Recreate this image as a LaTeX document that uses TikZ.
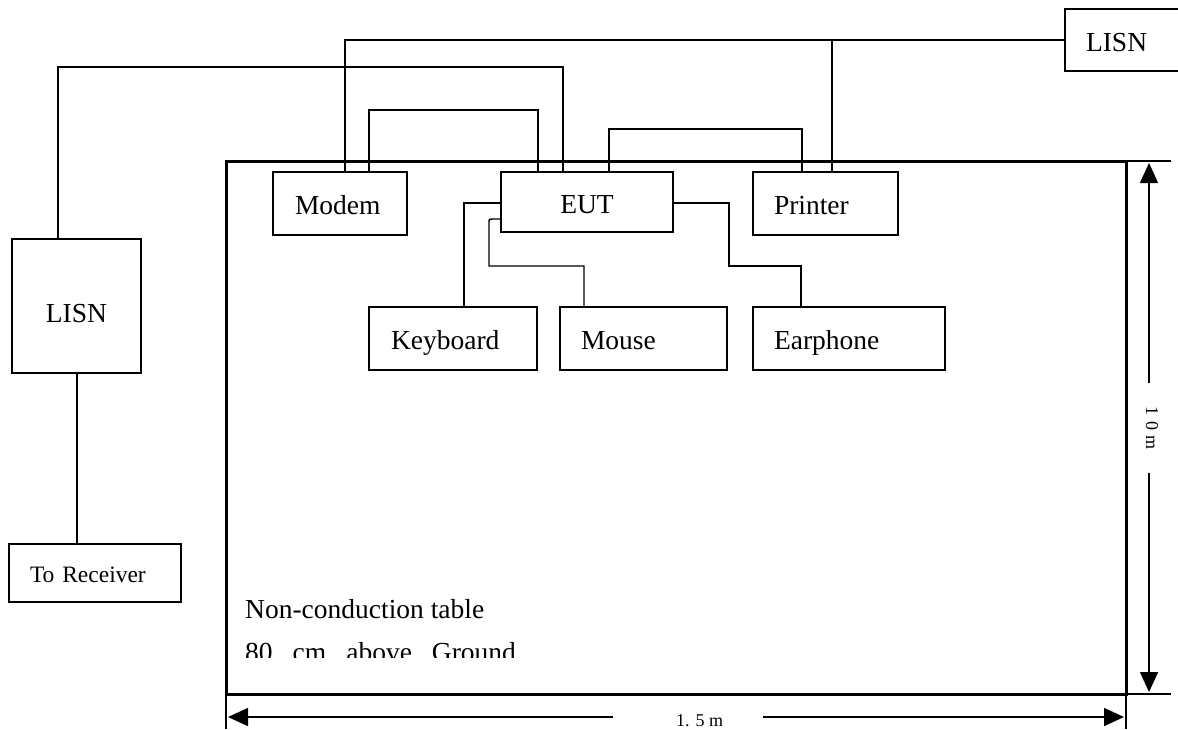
\documentclass[tikz,border=0pt]{standalone}
\usepackage{fontspec}
\setmainfont{Liberation Serif}
\usetikzlibrary{arrows.meta}
\newcommand{\boxfont}{\fontsize{27.5}{30}\selectfont}
\newcommand{\smallboxfont}{\fontsize{23.5}{26}\selectfont}
\newcommand{\dimfont}{\fontsize{18}{20}\selectfont}
\begin{document}
\begin{tikzpicture}[x=1pt,y=-1pt,
  unit/.style={draw, line width=1.6pt, outer sep=0pt, inner ysep=0pt,
    anchor=north west, align=left, font=\boxfont,
    text height=23pt, text depth=1pt},
  wire/.style={line width=1.4pt},
  tabletop/.style={line width=3pt},
  dimline/.style={line width=1.5pt},
  dimarrow/.style={dimline, -{Triangle[length=20pt,width=18pt]}},
  plain/.style={font=\boxfont, inner sep=0pt}]
\useasboundingbox (0,0) rectangle (1178,729);

% table surface
\draw[tabletop] (226,161) rectangle (1126,694);

% equipment boxes
\node[unit, text width=90pt,  inner xsep=22pt, minimum height=63pt] (modem)   at (273,172) {Modem};
\node[unit, text width=152pt, inner xsep=10pt, minimum height=60pt, align=center] (eut) at (501,172) {EUT};
\node[unit, text width=103pt, inner xsep=21pt, minimum height=63pt] (printer) at (753,172) {Printer};
\node[unit, text width=124pt, inner xsep=22pt, minimum height=63pt] (kbd)     at (369,307) {Keyboard};
\node[unit, text width=125pt, inner xsep=21pt, minimum height=63pt] (mouse)   at (560,307) {Mouse};
\node[unit, text width=150pt, inner xsep=21pt, minimum height=63pt] (ear)     at (753,307) {Earphone};
\node[unit, text width=109pt, inner xsep=10pt, minimum height=134pt, align=center,
      text height=34pt, text depth=2pt] (lisnL) at (12,239) {LISN};
\node[unit, text width=130pt, inner xsep=21pt, minimum height=58pt, font=\smallboxfont,
      text height=20pt, text depth=2pt] (recv) at (9,544) {To Receiver};
\node[unit, text width=98pt,  inner xsep=21pt, minimum height=62pt] (lisnR)   at (1065,9) {LISN};

% mains wiring from the right-hand LISN
\draw[wire] (lisnR.west) -- (345,0 |- lisnR.west) -- (345,0 |- modem.north);
\draw[wire] (832,0 |- lisnR.west) -- (832,0 |- printer.north);

% mains wiring from the left-hand LISN
\draw[wire] (58,0 |- lisnL.north) -- (58,67) -- (563,67) -- (563,0 |- eut.north);
\draw[wire] (77,0 |- lisnL.south) -- (77,0 |- recv.north);

% signal cables
\draw[wire] (369,0 |- modem.north) -- (369,110) -- (538,110) -- (538,0 |- eut.north);
\draw[wire] (609,0 |- eut.north) -- (609,129) -- (802,129) -- (802,0 |- printer.north);
\draw[wire] (464,0 |- kbd.north) -- (464,203) -- (eut.west |- 0,203);
\draw[wire] (584,0 |- mouse.north) -- (584,266) -- (489,266) -- (489,223)
  .. controls (489,219) .. (494,219) -- (eut.west |- 0,219);
\draw[wire] (eut.east |- 0,203) -- (729,203) -- (729,266) -- (801,266) -- (801,0 |- ear.north);

% table caption
\node[plain, anchor=base west] (caption) at (245,618) {Non-conduction table};
\begin{scope}
  \clip (226,625) rectangle (700,657.5);
  \node[plain, anchor=base west] (height) at (245,661)
    {80\hspace{20pt}cm\hspace{20pt}above\hspace{20pt}Ground};
\end{scope}

% dimensions
\draw[dimline] (1126,161) -- (1171,161);
\draw[dimline] (1126,694) -- (1171,694);
\draw[dimline] (226,694) -- (226,729);
\draw[dimline] (1126,694) -- (1126,729);

\node[font=\dimfont, inner sep=0pt, rotate=-90] (depth) at (1152,428) {1\hspace{6pt}0\hspace{6pt}m};
\coordinate (dtop) at (1149,163);
\coordinate (dbot) at (1149,692);
\coordinate (dgapA) at (1149,383);
\coordinate (dgapB) at (1149,473);
\draw[dimarrow] (dgapA) -- (dtop);
\draw[dimarrow] (dgapB) -- (dbot);

\node[font=\dimfont, inner sep=0pt, anchor=base] (width) at (699.5,726) {1. 5 m};
\coordinate (wleft) at (228,717);
\coordinate (wright) at (1124,717);
\coordinate (wgapA) at (613,717);
\coordinate (wgapB) at (763,717);
\draw[dimarrow] (wgapA) -- (wleft);
\draw[dimarrow] (wgapB) -- (wright);
\end{tikzpicture}
\end{document}
